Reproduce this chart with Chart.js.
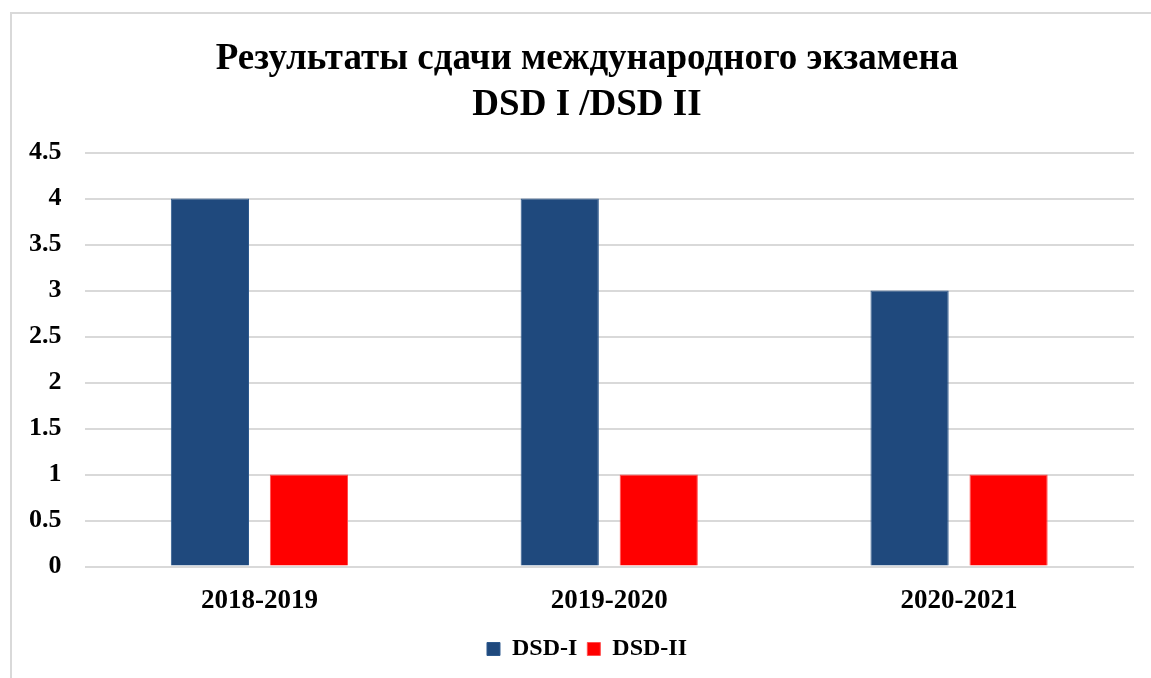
<!DOCTYPE html>
<html>
<head>
<meta charset="utf-8">
<script src="https://cdn.jsdelivr.net/npm/chart.js@4"></script>
<style>
  html, body { margin: 0; padding: 0; background: #fff; overflow: hidden; }
  #box {
    position: absolute; left: 10px; top: 12px;
    width: 1152px; height: 666px;
    border-left: 2px solid #d9d9d9; border-top: 2px solid #d9d9d9;
  }
</style>
</head>
<body>
<div id="box"><canvas id="myChart"></canvas></div>
<script>
const years = ['2018-2019', '2019-2020', '2020-2021'];
const dsd1 = [4, 4, 3];
const dsd2 = [1, 1, 1];
const titleLines = ['Результаты сдачи международного экзамена', 'DSD I /DSD II'];

const serif = "'Liberation Serif', 'Times New Roman', serif";
const chart = document.getElementById('myChart');

new Chart(chart, {
  type: 'bar',
  data: {
    labels: years,
    datasets: [{
      label: 'DSD-I',
      data: dsd1,
      backgroundColor: '#1f497d',
      borderColor: '#2e5a8e',
      borderWidth: 1
    }, {
      label: 'DSD-II',
      data: dsd2,
      backgroundColor: '#ff0000',
      borderColor: '#ff5050',
      borderWidth: 1
    }]
  },
  options: {
    responsive: true,
    maintainAspectRatio: false,
    animation: false,
    datasets: {
      bar: { categoryPercentage: 0.566, barPercentage: 0.79 }
    },
    layout: { padding: { top: 22, right: -4, left: -6, bottom: 9 } },
    plugins: {
      title: {
        display: true,
        text: titleLines,
        color: '#000',
        font: { family: serif, size: 37, weight: 'bold', lineHeight: 1.25 },
        padding: { top: 0, bottom: 24 }
      },
      legend: {
        position: 'bottom',
        labels: {
          color: '#000',
          boxWidth: 13,
          boxHeight: 13,
          padding: 10,
          font: { family: serif, size: 24, weight: 'bold' }
        }
      },
      tooltip: { enabled: false }
    },
    scales: {
      x: {
        grid: { display: false },
        border: { display: false },
        ticks: {
          color: '#000',
          padding: 10,
          font: { family: serif, size: 27, weight: 'bold' }
        }
      },
      y: {
        min: 0,
        max: 4.5,
        grid: { color: '#d9d9d9', lineWidth: 2, drawTicks: false },
        border: { display: false },
        ticks: {
          stepSize: 0.5,
          color: '#000',
          padding: 23,
          font: { family: serif, size: 26, weight: 'bold' },
          callback: v => String(v)
        }
      },
      // empty right-hand spacer so the plot ends where the reference does
      spacer: {
        type: 'linear',
        position: 'right',
        grid: { display: false },
        border: { display: false },
        ticks: { display: false },
        afterFit: s => { s.width = 34; }
      }
    }
  }
});
</script>
</body>
</html>
